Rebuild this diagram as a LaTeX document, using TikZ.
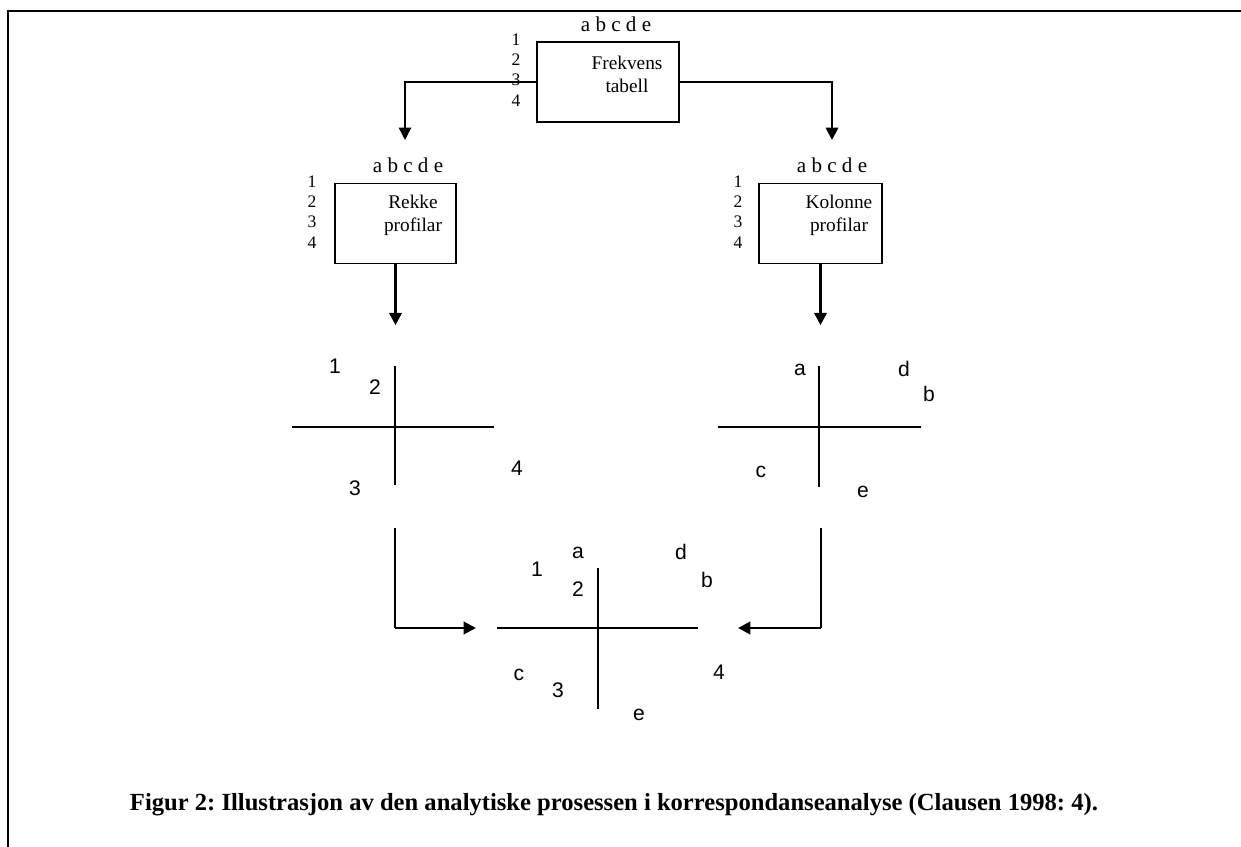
\documentclass[tikz,border=0pt]{standalone}
\usepackage{fontspec}
\setmainfont{Liberation Serif}
\newfontfamily\plotfont{Liberation Sans}
\usetikzlibrary{arrows.meta}
\frenchspacing

\tikzset{
  tablebox/.style={draw, line width=0.8pt, minimum height=1.6cm, inner sep=0pt},
  colnames/.style={font=\fontsize{12}{12}\selectfont, inner sep=0pt},
  rownames/.style={align=center, font=\fontsize{10}{11.6}\selectfont, inner sep=0pt},
  boxtext/.style={align=center, font=\fontsize{11}{13}\selectfont, inner sep=0pt},
  pt/.style={font=\plotfont\fontsize{12}{12}\selectfont, inner sep=0pt},
  axis/.style={line width=0.8pt},
  flow/.style={line width=1.6pt, -{Triangle[length=7pt,width=7pt]}},
  thinflow/.style={line width=0.8pt, -{Triangle[length=7pt,width=7pt]}}
}

\begin{document}
\begin{tikzpicture}[x=0.02cm, y=-0.02cm]
    \useasboundingbox (0,0) rectangle (1241,847);

    % Frame
    \draw[line width=1.4pt] (8,847) -- (8,11) -- (1241,11);

    % Tables
    \node[tablebox, minimum width=2.84cm] (frek) at (608,82) {};
    \node[boxtext] (frektxt) at (627,74) {Frekvens\\tabell};
    \node[colnames] (frekcol) at (616,24) {a b c d e};
    \node[rownames] (frekrow) at (516,70) {1\\2\\3\\4};

    \node[tablebox, minimum width=2.42cm] (rekke) at (395.5,223.5) {};
    \node[boxtext] (rekketxt) at (413,215) {Rekke\\profilar};
    \node[colnames] (rekkecol) at (408,165) {a b c d e};
    \node[rownames] (rekkerow) at (312,212) {1\\2\\3\\4};

    \node[tablebox, minimum width=2.46cm] (kol) at (820.5,223.5) {};
    \node[boxtext] (koltxt) at (839,215) {Kolonne\\profilar};
    \node[colnames] (kolcol) at (832,165) {a b c d e};
    \node[rownames] (kolrow) at (738,212) {1\\2\\3\\4};

    % Arrows from the frequency table
    \coordinate (lhead) at (405,140);
    \coordinate (rhead) at (832,140);
    \draw[thinflow] (frek.west) -| (lhead);
    \draw[thinflow, line width=1.3pt] (frek.east) -| (rhead);

    \draw[flow] (rekke.south) -- ++(0,61);
    \draw[flow] (kol.south) -- ++(0,61);

    % Row plot
    \draw[axis] (292,427) -- (494,427);
    \draw[axis] (395,366) -- (395,485);
    \node[pt] (r1) at (335,366) {1};
    \node[pt] (r2) at (375,387) {2};
    \node[pt] (r3) at (355,488) {3};
    \node[pt] (r4) at (517,468) {4};

    % Column plot
    \draw[axis] (718,427) -- (921,427);
    \draw[axis] (819,366) -- (819,487);
    \node[pt] (ca) at (800,370) {a};
    \node[pt] (cd) at (904,369) {d};
    \node[pt] (cb) at (929,394) {b};
    \node[pt] (cc) at (761,472) {c};
    \node[pt] (ce) at (863,492) {e};

    % Joint plot
    \draw[axis] (497,628) -- (698,628);
    \draw[axis] (598,568) -- (598,709);
    \node[pt] (ja) at (578,553) {a};
    \node[pt] (j1) at (537,569) {1};
    \node[pt] (j2) at (578,589) {2};
    \node[pt] (jd) at (681,552) {d};
    \node[pt] (jb) at (707,580) {b};
    \node[pt] (jc) at (519,675) {c};
    \node[pt] (j3) at (558,690) {3};
    \node[pt] (j4) at (719,672) {4};
    \node[pt] (je) at (639,715) {e};

    % Arrows into the joint plot
    \coordinate (ltop) at (395,528);
    \coordinate (lcorner) at (395,628);
    \coordinate (lend) at (476,628);
    \coordinate (rtop) at (821,528);
    \coordinate (rcorner) at (821,628);
    \coordinate (rend) at (738,628);
    \draw[line width=0.8pt] (ltop) -- (lcorner);
    \draw[flow] (lcorner) -- (lend);
    \draw[line width=0.8pt] (rtop) -- (rcorner);
    \draw[flow] (rcorner) -- (rend);

    % Caption
    \node[font=\bfseries\fontsize{14}{16}\selectfont, inner sep=0pt] (caption) at (614,805)
      {Figur 2: Illustrasjon av den analytiske prosessen i korrespondanseanalyse (Clausen 1998: 4).};
\end{tikzpicture}
\end{document}
